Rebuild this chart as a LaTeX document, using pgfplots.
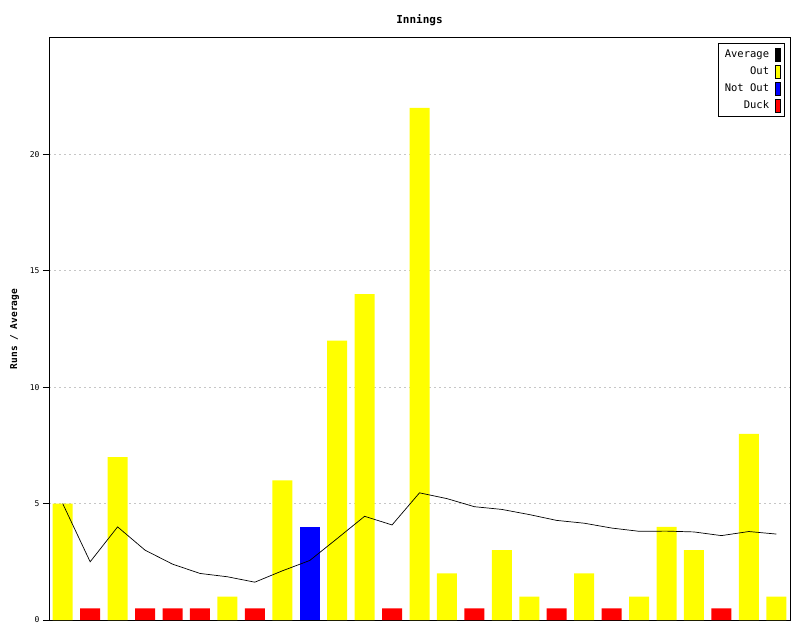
\documentclass[border=0pt]{standalone}
\usepackage{pgfplots}
\pgfplotsset{compat=1.18}
\usepackage{fontspec}
\setmainfont{DejaVu Sans Mono}
\definecolor{outc}{RGB}{255,255,0}
\definecolor{notoutc}{RGB}{0,0,255}
\definecolor{duckc}{RGB}{255,0,0}

\begin{document}
\begin{tikzpicture}[x=1pt,y=1pt]
\useasboundingbox (0,0) rectangle (800,640);
\begin{axis}[
    at={(49pt,20pt)}, anchor=south west,
    scale only axis,
    width=741pt, height=582pt,
    xmin=-0.5, xmax=26.5,
    ymin=0, ymax=25,
    xtick=\empty,
    ytick={0,5,10,15,20},
    ytick pos=left,
    tick align=outside,
    major tick length=6pt,
    tick style={black, line width=1pt},
    yticklabel style={font=\fontsize{8}{9}\selectfont},
    /pgf/number format/assume math mode=true,
    ymajorgrids,
    grid style={dash pattern=on 2pt off 3pt, gray!45, line width=0.8pt},
    axis line style={line width=1pt},
    title={Innings},
    title style={font=\fontsize{11}{12}\selectfont\bfseries, yshift=3pt},
    ylabel={Runs / Average},
    ylabel style={font=\fontsize{9.5}{11}\selectfont\bfseries, yshift=4pt},
    legend cell align=right,
    legend plot pos=right,
    legend style={font=\fontsize{10.5}{12}\selectfont, draw=black, line width=0.8pt,
        at={(0.9935,0.991)}, anchor=north east, inner xsep=4pt, inner ysep=4pt, row sep=3pt},
]
% Out
\addplot[ybar, bar shift=0pt, bar width=20pt, fill=outc, draw=none, forget plot]
 coordinates {(0,5) (2,7) (6,1) (8,6) (10,12) (11,14) (13,22) (14,2) (16,3)
 (17,1) (19,2) (21,1) (22,4) (23,3) (25,8) (26,1)};
% Not out
\addplot[ybar, bar shift=0pt, bar width=20pt, fill=notoutc, draw=none, forget plot]
 coordinates {(9,4)};
% Ducks
\addplot[ybar, bar shift=0pt, bar width=20pt, fill=duckc, draw=none, forget plot]
 coordinates {(1,0.5) (3,0.5) (4,0.5) (5,0.5) (7,0.5) (12,0.5) (15,0.5) (18,0.5) (20,0.5) (24,0.5)};
% Average
\addplot[black, line width=0.7pt, mark=none, forget plot]
 coordinates {(0,5) (1,2.5) (2,4) (3,3) (4,2.4) (5,2) (6,1.857) (7,1.625)
 (8,2.111) (9,2.556) (10,3.5) (11,4.455) (12,4.083) (13,5.462) (14,5.214)
 (15,4.867) (16,4.75) (17,4.529) (18,4.278) (19,4.158) (20,3.95) (21,3.81)
 (22,3.818) (23,3.783) (24,3.625) (25,3.8) (26,3.692)};
\addlegendimage{legend image code/.code={\path (0pt,0pt); \filldraw[fill=black, draw=black, line width=0.6pt] (4pt,-7pt) rectangle (9pt,6pt);}}
\addlegendentry{Average}
\addlegendimage{legend image code/.code={\path (0pt,0pt); \filldraw[fill=outc, draw=black, line width=0.6pt] (4pt,-7pt) rectangle (9pt,6pt);}}
\addlegendentry{Out}
\addlegendimage{legend image code/.code={\path (0pt,0pt); \filldraw[fill=notoutc, draw=black, line width=0.6pt] (4pt,-7pt) rectangle (9pt,6pt);}}
\addlegendentry{Not Out}
\addlegendimage{legend image code/.code={\path (0pt,0pt); \filldraw[fill=duckc, draw=black, line width=0.6pt] (4pt,-7pt) rectangle (9pt,6pt);}}
\addlegendentry{Duck}
\end{axis}
\end{tikzpicture}
\end{document}
